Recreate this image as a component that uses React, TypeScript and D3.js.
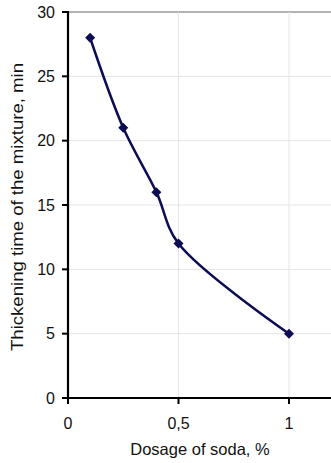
import React from "react";
import * as d3 from "d3";

const dosage = [0.1, 0.25, 0.4, 0.5, 1];
const thickTime = [28, 21, 16, 12, 5];
const yTicks = [0, 5, 10, 15, 20, 25, 30];
const xTicks = [0, 0.5, 1];
const xTickLabels = ["0", "0,5", "1"];

export default function App() {
  const W = 331, H = 463;
  const x0 = 68, y0 = 398, yTop = 12;
  const x = d3.scaleLinear().domain([0, 1]).range([x0, 289]);
  const y = d3.scaleLinear().domain([0, 30]).range([y0, yTop]);
  const pts: [number, number][] = dosage.map((d, i) => [x(d), y(thickTime[i])]);
  const line = d3.line().curve(d3.curveCatmullRom.alpha(0.5))(pts) || "";
  const font = "Liberation Sans, Arial, sans-serif";
  const col = "#0d0d55";
  return (
    <svg width={W} height={H} style={{ position: "absolute", left: 0, top: 0 }} fontFamily={font}>
      <rect width={W} height={H} fill="#fff" />
      {yTicks.filter(t => t > 0).map(t => (
        <line key={"gy" + t} x1={x0} x2={W} y1={y(t)} y2={y(t)} stroke={t === 30 ? "#999" : "#e4e4e4"} strokeWidth={t === 30 ? 1.5 : 1} />
      ))}
      {xTicks.filter(t => t > 0).map(t => (
        <line key={"gx" + t} x1={x(t)} x2={x(t)} y1={yTop} y2={y0} stroke="#e4e4e4" strokeWidth={1} />
      ))}
      <line x1={x0} x2={x0} y1={yTop - 1} y2={y0 + 1} stroke="#000" strokeWidth={2.2} />
      <line x1={x0 - 1} x2={W} y1={y0} y2={y0} stroke="#000" strokeWidth={2.2} />
      {yTicks.map(t => (
        <g key={"ty" + t}>
          <line x1={x0 - 6} x2={x0} y1={y(t)} y2={y(t)} stroke="#000" strokeWidth={2} />
          <text x={x0 - 13} y={y(t)} dy="0.36em" textAnchor="end" fontSize={16} fill="#111">{t}</text>
        </g>
      ))}
      {xTicks.map((t, i) => (
        <g key={"tx" + t}>
          <line x1={x(t)} x2={x(t)} y1={y0} y2={y0 + 6} stroke="#000" strokeWidth={2} />
          <text x={x(t)} y={429} textAnchor="middle" fontSize={16} fill="#111">{xTickLabels[i]}</text>
        </g>
      ))}
      <text x={200} y={455} textAnchor="middle" fontSize={16.5} fill="#111">Dosage of soda, %</text>
      <text transform={`translate(23,207) rotate(-90)`} textAnchor="middle" fontSize={16.5} fill="#111"
        textLength={288} lengthAdjust="spacingAndGlyphs">Thickening time of the mixture, min</text>
      <path d={line} fill="none" stroke={col} strokeWidth={2.5} />
      {pts.map((p, i) => (
        <path key={"m" + i} d="M0,-5L5,0L0,5L-5,0Z" transform={`translate(${p[0]},${p[1]})`} fill={col} />
      ))}
    </svg>
  );
}
